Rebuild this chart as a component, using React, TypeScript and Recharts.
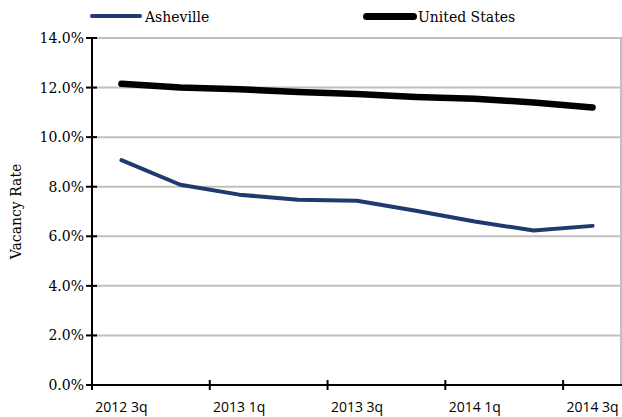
import { LineChart, Line, XAxis, YAxis, CartesianGrid, Legend } from 'recharts';

const quarters = ['2012 3q', '2012 4q', '2013 1q', '2013 2q', '2013 3q', '2013 4q', '2014 1q', '2014 2q', '2014 3q'];
const asheville = [9.07, 8.08, 7.68, 7.47, 7.43, 7.03, 6.6, 6.23, 6.42];
const unitedStates = [12.15, 12.0, 11.93, 11.82, 11.74, 11.62, 11.55, 11.4, 11.2];
const yTicks = [0, 2, 4, 6, 8, 10, 12, 14];
// labels sit on every other quarter, tick marks on the boundaries between pairs
const xTicks = [-0.5, 0, 1.5, 2, 3.5, 4, 5.5, 6, 7.5, 8];

const ASHEVILLE_COLOR = '#1f3a6e';
const US_COLOR = '#000000';
const SERIF = "'DejaVu Serif', serif";
const SANS = "'Open Sans', sans-serif";

const data = quarters.map((q, i) => ({
    idx: i,
    quarter: q,
    asheville: asheville[i],
    us: unitedStates[i],
}));

const XTick = ({ x, y, payload }: any) => {
    const v = payload.value;
    if (Number.isInteger(v)) {
        return (
            <text x={x} y={y + 27} textAnchor="middle" fontFamily={SANS} fontSize={14} fill="#000">
                {quarters[v]}
            </text>
        );
    }
    return <line x1={x} x2={x} y1={y - 5} y2={y + 5} stroke="#000" strokeWidth={2} />;
};

const YTick = ({ x, y, payload }: any) => (
    <g>
        <line x1={x - 6} x2={x + 5} y1={y} y2={y} stroke="#000" strokeWidth={2} />
        <text x={x - 8} y={y} dy="0.36em" textAnchor="end" fontFamily={SERIF} fontSize={14} fill="#000">
            {payload.value.toFixed(1)}%
        </text>
    </g>
);

const legendItems = [
    { name: 'Asheville', color: ASHEVILLE_COLOR, thickness: 4, lineLeft: 90, lineWidth: 52, textLeft: 145 },
    { name: 'United States', color: US_COLOR, thickness: 7, lineLeft: 363, lineWidth: 54, textLeft: 418 },
];

const LegendContent = () => (
    <div style={{ position: 'relative', width: 622, height: 32 }}>
        {legendItems.map(item => (
            <div key={item.name}>
                <div
                    style={{
                        position: 'absolute',
                        left: item.lineLeft,
                        top: 16 - item.thickness / 2,
                        width: item.lineWidth,
                        height: item.thickness,
                        borderRadius: item.thickness / 2,
                        background: item.color,
                    }}
                />
                <span
                    style={{
                        position: 'absolute',
                        left: item.textLeft,
                        top: 8,
                        fontFamily: SERIF,
                        fontSize: 14,
                        lineHeight: '18px',
                        color: '#000',
                        whiteSpace: 'nowrap',
                    }}
                >
                    {item.name}
                </span>
            </div>
        ))}
    </div>
);

export default function App() {
    return (
        <div style={{ position: 'absolute', left: 0, top: 0, background: '#fff' }}>
            <LineChart width={622} height={417} data={data} margin={{ top: 38, right: 0, bottom: 0, left: 0 }}>
                <CartesianGrid
                    stroke="#c0c0c0"
                    strokeWidth={2}
                    horizontal={true}
                    verticalPoints={[621]}
                />
                <XAxis
                    type="number"
                    dataKey="idx"
                    domain={[-0.5, 8.5]}
                    ticks={xTicks}
                    interval={0}
                    allowDecimals
                    height={32}
                    tickSize={0}
                    tickMargin={0}
                    tickLine={false}
                    axisLine={{ stroke: '#000', strokeWidth: 2 }}
                    tick={<XTick />}
                />
                <YAxis
                    type="number"
                    domain={[0, 14]}
                    ticks={yTicks}
                    interval={0}
                    width={92}
                    tickSize={0}
                    tickMargin={0}
                    tickLine={false}
                    axisLine={{ stroke: '#000', strokeWidth: 2 }}
                    tick={<YTick />}
                    label={{
                        content: ({ viewBox }: any) => {
                            const cy = viewBox.y + viewBox.height / 2;
                            return (
                                <text
                                    x={16}
                                    y={cy}
                                    transform={`rotate(-90 16 ${cy})`}
                                    textAnchor="middle"
                                    dy="0.36em"
                                    fontFamily={SERIF}
                                    fontSize={14}
                                    fill="#000"
                                >
                                    Vacancy Rate
                                </text>
                            );
                        },
                    }}
                />
                <Legend
                    layout="horizontal"
                    verticalAlign="middle"
                    align="center"
                    wrapperStyle={{ position: 'absolute', top: 0, left: 0, width: 622, height: 32 }}
                    content={<LegendContent />}
                />
                <Line
                    type="linear"
                    dataKey="asheville"
                    name="Asheville"
                    stroke={ASHEVILLE_COLOR}
                    strokeWidth={4}
                    strokeLinecap="round"
                    strokeLinejoin="round"
                    dot={false}
                    activeDot={false}
                    isAnimationActive={false}
                />
                <Line
                    type="linear"
                    dataKey="us"
                    name="United States"
                    stroke={US_COLOR}
                    strokeWidth={6.5}
                    strokeLinecap="round"
                    strokeLinejoin="round"
                    dot={false}
                    activeDot={false}
                    isAnimationActive={false}
                />
            </LineChart>
        </div>
    );
}
